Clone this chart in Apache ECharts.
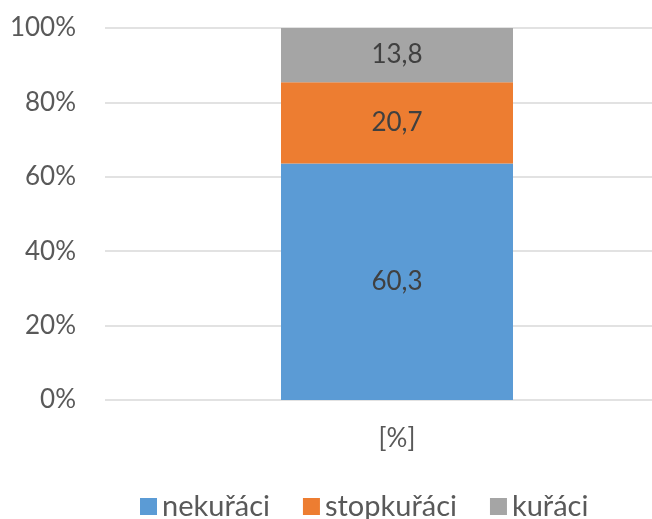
<!DOCTYPE html>
<html>
<head>
<meta charset="utf-8">
<script src="https://cdn.jsdelivr.net/npm/echarts@6/dist/echarts.min.js"></script>
<style>
  html, body { margin: 0; padding: 0; background: #fff; }
  #chart { width: 652px; height: 519px; }
</style>
</head>
<body>
<div id="chart"></div>
<script>
// kategorie na ose x
const categories = ["[%]"];
// skupiny a hodnoty (v %)
const seriesNames = ["nekuřáci", "stopkuřáci", "kuřáci"];
const nekuraci = [60.3];
const stopkuraci = [20.7];
const kuraci = [13.8];
const seriesColors = ["#5B9BD5", "#ED7D31", "#A5A5A5"];

const raw = [nekuraci, stopkuraci, kuraci];
// 100% skládaný sloupec: přepočet na podíl z celku
const totals = categories.map((_, i) => raw.reduce((s, arr) => s + arr[i], 0));

const font = "Lato, 'Open Sans', sans-serif";

const chart = echarts.init(document.getElementById("chart"));
const option = {
  animation: false,
  textStyle: { fontFamily: font },
  grid: {
    left: 105,
    top: 28,
    width: 584,
    height: 372,
    containLabel: false,
    outerBoundsMode: "none",
  },
  legend: {
    data: seriesNames,
    left: 140,
    top: 492,
    padding: 0,
    icon: "rect",
    itemWidth: 17,
    itemHeight: 17,
    itemGap: 33,
    textStyle: { fontSize: 29, color: "#595959", fontFamily: font },
  },
  xAxis: {
    type: "category",
    data: categories,
    axisLine: { show: false },
    axisTick: { show: false },
    axisLabel: { fontSize: 26, color: "#595959", margin: 26, fontFamily: font },
  },
  yAxis: {
    type: "value",
    min: 0,
    max: 100,
    interval: 20,
    axisLine: { show: false },
    axisTick: { show: false },
    splitLine: { lineStyle: { color: "#D9D9D9", width: 1.5 } },
    axisLabel: {
      fontSize: 26,
      color: "#595959",
      margin: 29,
      fontFamily: font,
      formatter: "{value}%",
    },
  },
  series: raw.map((arr, k) => ({
    name: seriesNames[k],
    type: "bar",
    stack: "total",
    barWidth: 232,
    itemStyle: { color: seriesColors[k] },
    label: {
      show: true,
      position: "inside",
      fontSize: 26,
      color: "#404040",
      fontFamily: font,
      formatter: (p) => String(arr[p.dataIndex]).replace(".", ","),
    },
    data: arr.map((v, i) => (v / totals[i]) * 100),
  })),
};
chart.setOption(option);
</script>
</body>
</html>
